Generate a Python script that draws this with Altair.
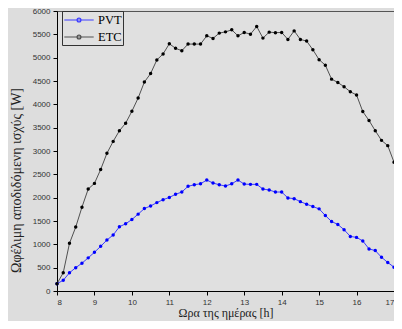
import altair as alt
import pandas as pd

hours = [8 + i / 6 for i in range(55)]

pvt = [157, 230, 390, 500, 596, 710, 830, 957, 1093, 1200, 1377, 1440, 1532, 1647,
       1766, 1823, 1894, 1957, 2005, 2072, 2121, 2243, 2277, 2298, 2377, 2313, 2277,
       2249, 2298, 2377, 2291, 2285, 2285, 2185, 2164, 2121, 2121, 1994, 1979, 1915,
       1860, 1809, 1760, 1617, 1489, 1426, 1313, 1170, 1149, 1072, 902, 866, 723, 611, 511]

etc = [157, 391, 1021, 1370, 1796, 2185, 2306, 2604, 2951, 3206, 3434, 3596, 3851,
       4136, 4477, 4660, 4951, 5080, 5298, 5200, 5149, 5291, 5291, 5291, 5468, 5413,
       5526, 5553, 5596, 5468, 5540, 5504, 5668, 5419, 5547, 5536, 5540, 5391, 5574,
       5391, 5355, 5170, 4957, 4838, 4540, 4468, 4377, 4270, 4200, 3845, 3653, 3434,
       3228, 3115, 2760]

series = ["PVT", "ETC"]
line_colors = ["#3c3cff", "#505050"]
point_colors = ["#0000ff", "#000000"]
x_ticks = list(range(8, 18))
y_ticks = list(range(0, 6001, 500))

df = pd.concat([
    pd.DataFrame({"h": hours, "P": pvt, "s": "PVT"}),
    pd.DataFrame({"h": hours, "P": etc, "s": "ETC"}),
])

legend_path = "M-2.1,0H2.1M-0.28,0a0.28,0.28 0 1,0 0.56,0a0.28,0.28 0 1,0 -0.56,0"

color = alt.Color(
    "s:N",
    scale=alt.Scale(domain=series, range=line_colors),
    legend=alt.Legend(
        title=None, orient="none", legendX=5, legendY=0,
        symbolType=legend_path, symbolSize=196, symbolStrokeWidth=1.2,
        labelFont="Liberation Serif", labelFontSize=12.5, labelColor="#000",
        strokeColor="#333", padding=1, rowPadding=2, labelOffset=11,
        symbolOffset=8,
    ),
    sort=series,
)

x = alt.X("h:Q", scale=alt.Scale(domain=[8, 17], nice=False),
          axis=alt.Axis(values=x_ticks, title="Ωρα της ημέρας [h]", format="d",
                        tickSize=4, labelPadding=3, titleY=16, titleBaseline="top"))
y = alt.Y("P:Q", scale=alt.Scale(domain=[0, 6000], nice=False),
          axis=alt.Axis(values=y_ticks, title="Ωφέλιμη αποδιδόμενη ισχύς [W]", format="d",
                        tickSize=4, labelPadding=3, titleX=-34, titleY=169,
                        titleFontSize=14))

base = alt.Chart(df)
lines = base.mark_line(strokeWidth=1).encode(x=x, y=y, color=color, detail="s:N")
pts = base.mark_circle(size=12, opacity=1).encode(
    x=x, y=y,
    color=alt.Color("s:N", scale=alt.Scale(domain=series, range=point_colors), legend=None))

chart = (lines + pts).resolve_scale(color="independent").properties(
    width=337, height=280,
    autosize=alt.AutoSizeParams(type="none"),
    padding={"left": 49, "top": 3, "right": 0, "bottom": 30},
    background="#dddddd",
).configure_view(
    stroke="#555", strokeWidth=1, fill="#e0e0e0",
).configure_axis(
    grid=False, domainColor="#000", tickColor="#000",
    labelFont="Liberation Sans", labelFontSize=8, labelColor="#333",
    titleFont="Liberation Serif", titleFontSize=12, titleFontWeight="normal",
    titleColor="#222",
)

chart.save("out.html", embed_options={"renderer": "svg", "actions": False})
